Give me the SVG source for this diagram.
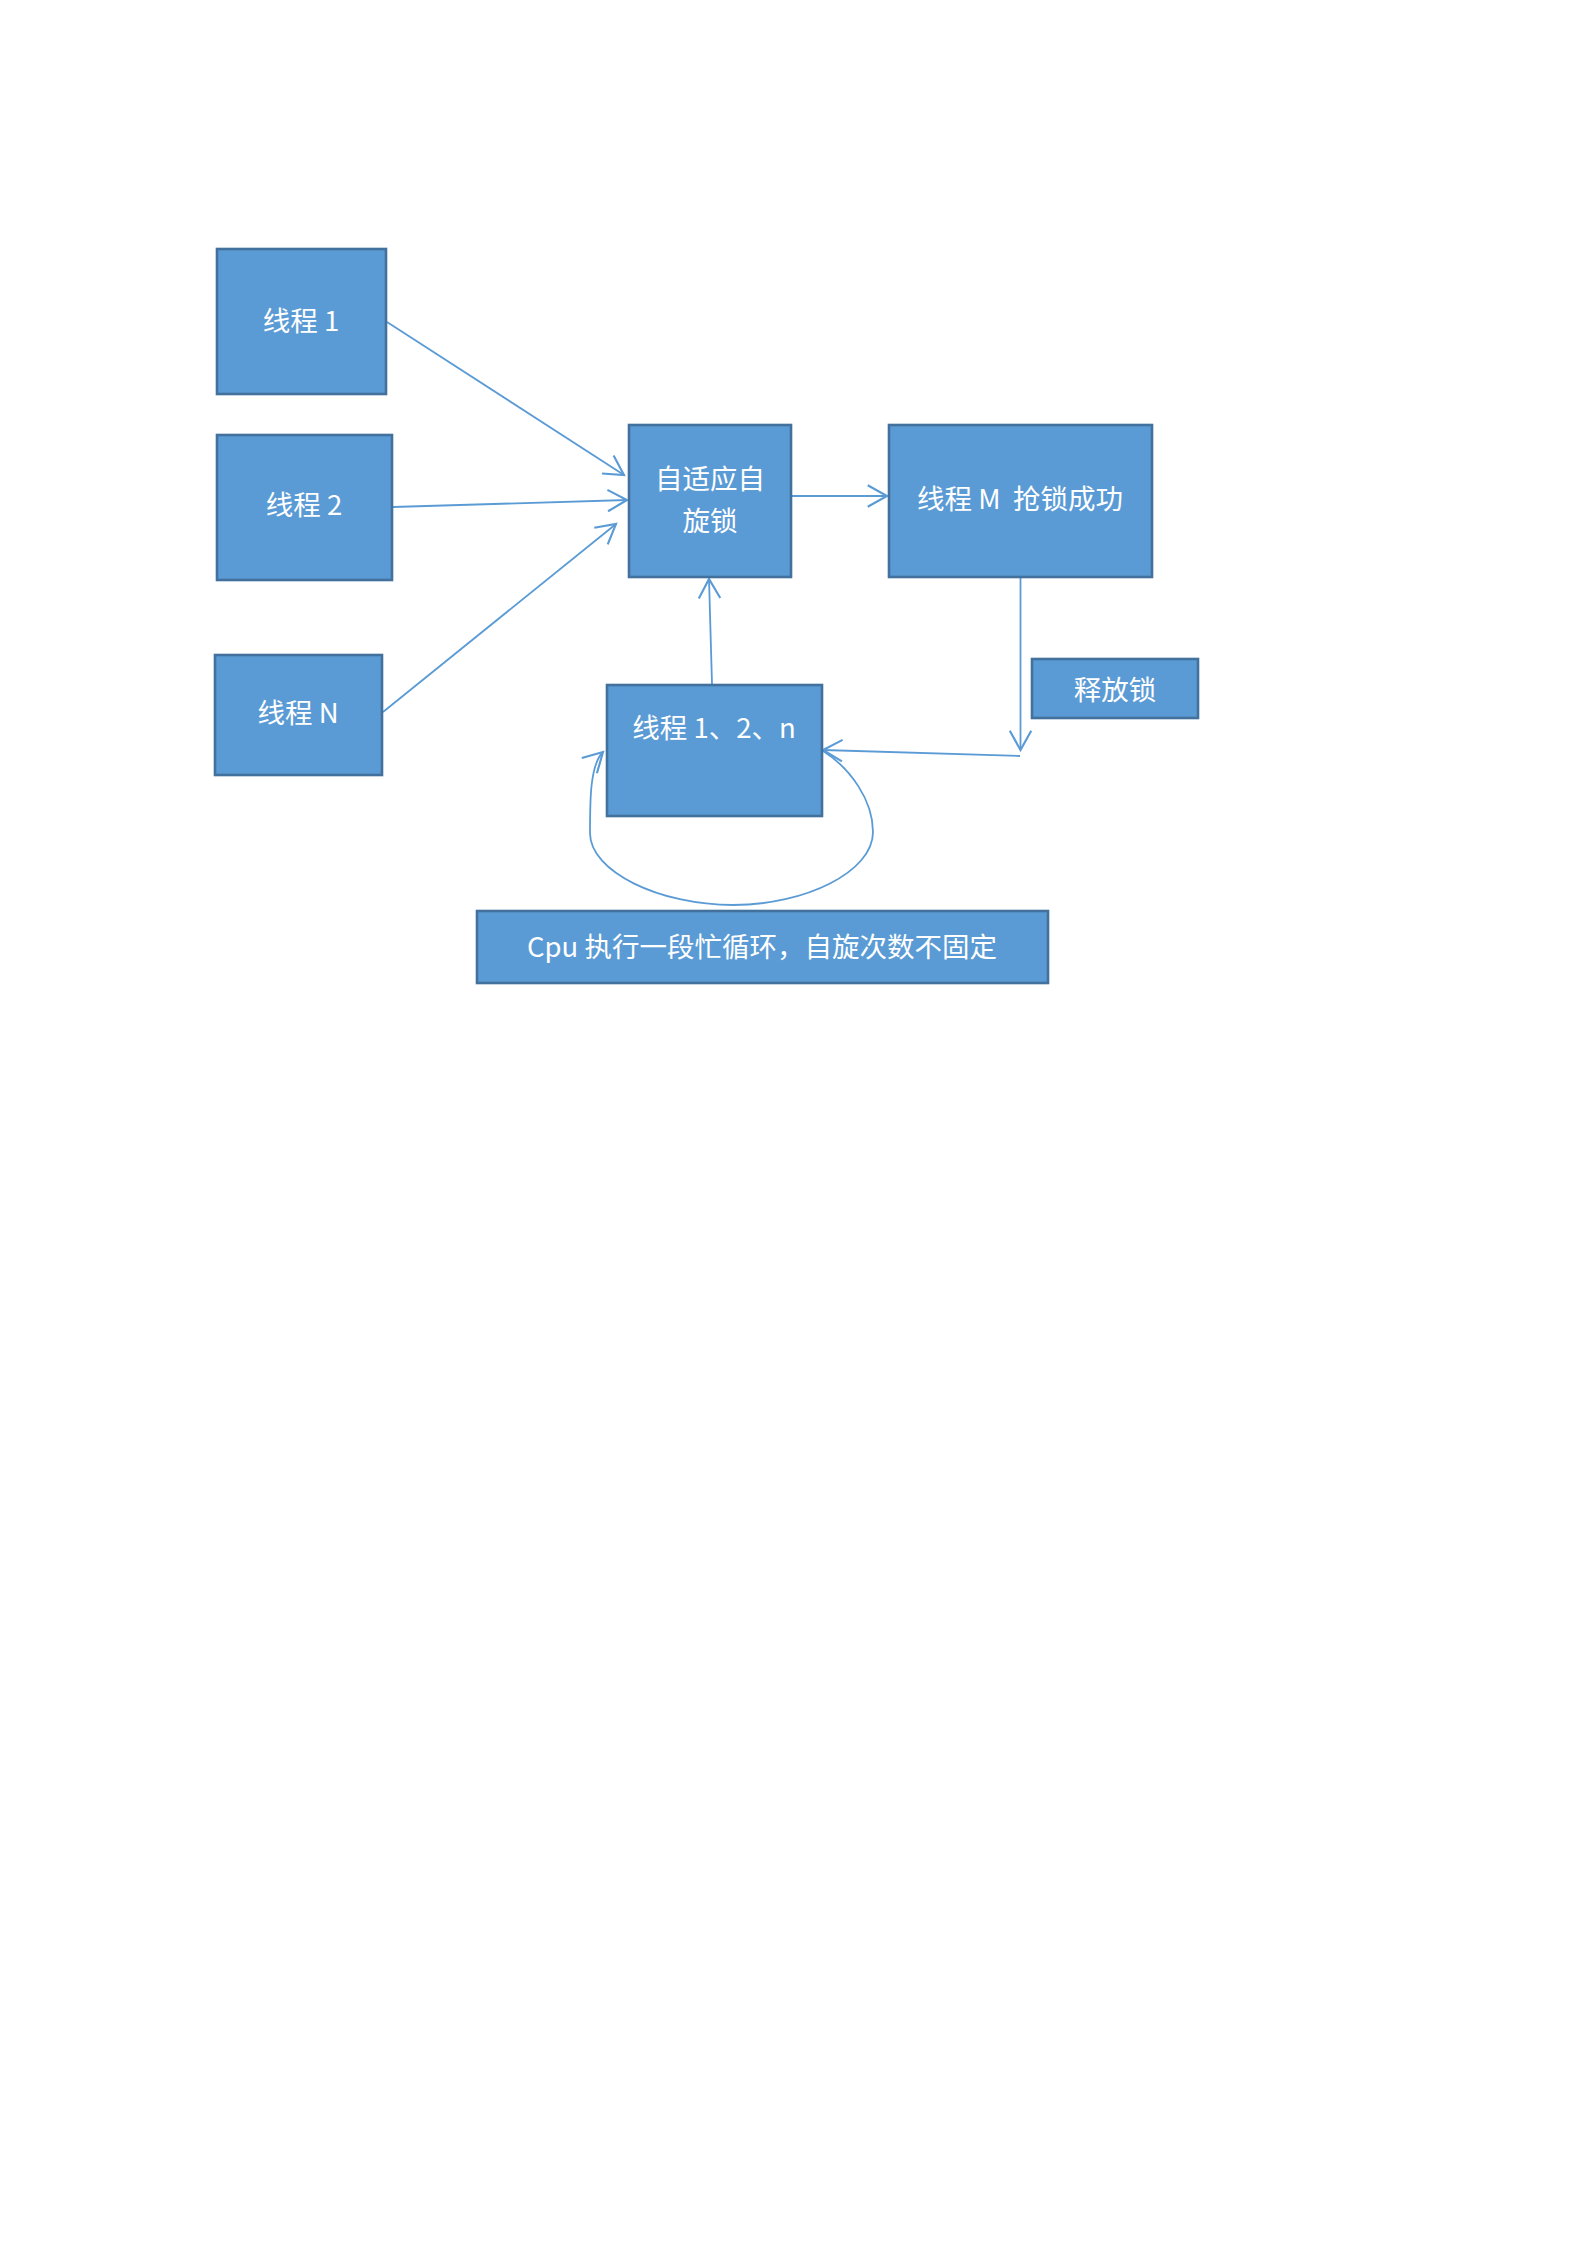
<svg xmlns="http://www.w3.org/2000/svg" width="1587" height="2245" viewBox="0 0 1587 2245">
<defs>
<style>
.box{fill:#5B9BD5;stroke:#41719C;stroke-width:2.6}
.t{font-family:"Noto Sans CJK SC","Noto Sans",sans-serif;font-size:27.5px;fill:#FFFFFF;text-anchor:middle;white-space:pre}
.c{fill:none;stroke:#5B9BD5;stroke-width:1.8}
</style>
<marker id="ah" markerUnits="userSpaceOnUse" markerWidth="30" markerHeight="30" viewBox="-22 -14 26 28" refX="0" refY="0" orient="auto">
<path d="M-18,-10 L0,0 L-18,10" fill="none" stroke="#5B9BD5" stroke-width="2"/>
</marker>
</defs>
<rect width="1587" height="2245" fill="#FFFFFF"/>
<g id="connectors">
<line class="c" x1="387" y1="322" x2="624" y2="475" marker-end="url(#ah)"/>
<line class="c" x1="393" y1="507" x2="627" y2="500" marker-end="url(#ah)"/>
<line class="c" x1="383" y1="712" x2="616" y2="524" marker-end="url(#ah)"/>
<line class="c" x1="792" y1="496" x2="887" y2="496" marker-end="url(#ah)"/>
<line class="c" x1="1020.5" y1="578" x2="1020.5" y2="750" marker-end="url(#ah)"/>
<line class="c" x1="1020" y1="756" x2="823" y2="750" marker-end="url(#ah)"/>
<line class="c" x1="712" y1="684" x2="709" y2="579" marker-end="url(#ah)"/>
<path class="c" d="M823,751 C850,768 873,800 873,832 C873,872 805,905 733,905 C660,905 590,872 590,833 C590,800 590,765 603,752" marker-end="url(#ah)"/>
</g>
<g id="node-thread1">
<rect class="box" x="217" y="249" width="169" height="145"/>
<text class="t" x="301" y="331">线程 1</text>
</g>
<g id="node-thread2">
<rect class="box" x="217" y="435" width="175" height="145"/>
<text class="t" x="304" y="515">线程 2</text>
</g>
<g id="node-threadN">
<rect class="box" x="215" y="655" width="167" height="120"/>
<text class="t" x="298" y="723">线程 N</text>
</g>
<g id="node-adaptive">
<rect class="box" x="629" y="425" width="162" height="152"/>
<text class="t" x="710" y="489">自适应自</text>
<text class="t" x="710" y="531">旋锁</text>
</g>
<g id="node-threadM">
<rect class="box" x="889" y="425" width="263" height="152"/>
<text class="t" x="1020" y="509">线程 M  抢锁成功</text>
</g>
<g id="node-release">
<rect class="box" x="1032" y="659" width="166" height="59"/>
<text class="t" x="1115" y="700">释放锁</text>
</g>
<g id="node-threads12n">
<rect class="box" x="607" y="685" width="215" height="131"/>
<text class="t" x="714" y="738">线程 1、2、n</text>
</g>
<g id="node-cpu">
<rect class="box" x="477" y="911" width="571" height="72"/>
<text class="t" x="762" y="957">Cpu 执行一段忙循环，自旋次数不固定</text>
</g>
</svg>
